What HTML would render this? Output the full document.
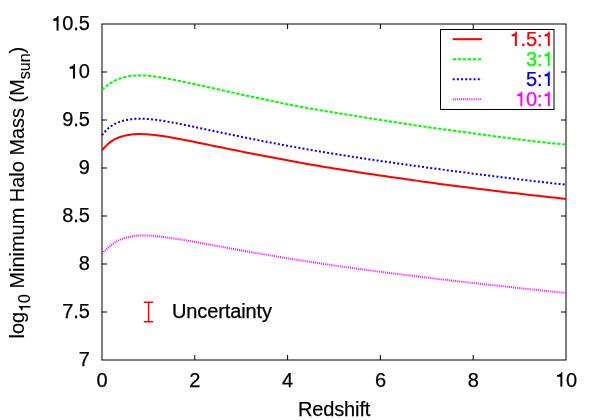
<!DOCTYPE html>
<html><head><meta charset="utf-8"><title>plot</title>
<style>
html,body{margin:0;padding:0;background:#fff;}
svg{display:block;will-change:transform;}
text{font-family:"Liberation Sans",sans-serif;font-size:20px;fill:#000;letter-spacing:-0.12px;stroke:#000;stroke-width:0.25px;}
tspan.h{fill:none !important;stroke:none !important;}
.one{stroke-width:0.1px;}
</style></head><body>
<svg width="600" height="420" viewBox="0 0 600 420">
<rect width="600" height="420" fill="#fff"/>
<g fill="none" stroke="#000" stroke-width="1">
<path d="M102,72 h5 M566,72 h-5"/><path d="M102,120 h5 M566,120 h-5"/><path d="M102,168 h5 M566,168 h-5"/><path d="M102,216 h5 M566,216 h-5"/><path d="M102,264 h5 M566,264 h-5"/><path d="M102,312 h5 M566,312 h-5"/><path d="M194.8,360 v-5 M194.8,24 v5"/><path d="M287.6,360 v-5 M287.6,24 v5"/><path d="M380.4,360 v-5 M380.4,24 v5"/><path d="M473.2,360 v-5 M473.2,24 v5"/>
<rect x="102" y="24" width="464" height="336"/>
</g>
<g fill="none" stroke-width="2" stroke-linecap="butt" stroke-linejoin="round">
<path d="M102.0,150.42 L103.0,149.18 L104.0,148.01 L105.0,146.91 L106.0,145.87 L107.0,144.90 L108.0,144.00 L109.0,143.15 L110.0,142.36 L111.0,141.63 L112.0,140.95 L113.0,140.31 L114.0,139.72 L115.0,139.18 L116.0,138.68 L117.0,138.21 L118.0,137.78 L119.0,137.39 L120.0,137.03 L121.0,136.69 L122.0,136.39 L123.0,136.12 L124.0,135.87 L125.0,135.64 L126.0,135.44 L127.0,135.27 L128.0,135.07 L129.0,134.89 L130.0,134.74 L131.0,134.59 L132.0,134.47 L133.0,134.36 L134.0,134.27 L135.0,134.18 L136.0,134.14 L137.0,134.11 L138.0,134.09 L139.0,134.08 L140.0,134.08 L141.0,134.09 L142.0,134.11 L143.0,134.14 L144.0,134.18 L145.0,134.22 L146.0,134.28 L147.0,134.34 L148.0,134.41 L149.0,134.48 L150.0,134.56 L151.0,134.65 L152.0,134.75 L153.0,134.85 L154.0,134.96 L155.0,135.07 L156.0,135.19 L157.0,135.31 L158.0,135.43 L159.0,135.56 L160.0,135.69 L161.0,135.83 L162.0,135.97 L163.0,136.11 L164.0,136.26 L165.0,136.40 L166.0,136.55 L167.0,136.71 L168.0,136.86 L169.0,137.04 L170.0,137.21 L174.0,137.94 L178.0,138.68 L182.0,139.45 L186.0,140.24 L190.0,141.03 L194.0,141.84 L198.0,142.65 L202.0,143.47 L206.0,144.29 L210.0,145.11 L214.0,145.94 L218.0,146.76 L222.0,147.58 L226.0,148.39 L230.0,149.20 L234.0,150.01 L238.0,150.82 L242.0,151.62 L246.0,152.41 L250.0,153.20 L254.0,153.99 L258.0,154.77 L262.0,155.55 L266.0,156.31 L270.0,157.08 L274.0,157.84 L278.0,158.59 L282.0,159.33 L286.0,160.08 L290.0,160.81 L294.0,161.55 L298.0,162.27 L302.0,162.99 L306.0,163.70 L310.0,164.41 L314.0,165.11 L318.0,165.81 L322.0,166.49 L326.0,167.14 L330.0,167.79 L334.0,168.43 L338.0,169.07 L342.0,169.70 L346.0,170.33 L350.0,170.95 L354.0,171.57 L358.0,172.18 L362.0,172.79 L366.0,173.39 L370.0,173.98 L374.0,174.57 L378.0,175.16 L382.0,175.74 L386.0,176.32 L390.0,176.89 L394.0,177.46 L398.0,178.02 L402.0,178.59 L406.0,179.17 L410.0,179.74 L414.0,180.31 L418.0,180.88 L422.0,181.44 L426.0,181.99 L430.0,182.55 L434.0,183.09 L438.0,183.64 L442.0,184.18 L446.0,184.72 L450.0,185.25 L454.0,185.78 L458.0,186.30 L462.0,186.82 L466.0,187.32 L470.0,187.82 L474.0,188.32 L478.0,188.82 L482.0,189.31 L486.0,189.79 L490.0,190.28 L494.0,190.76 L498.0,191.23 L502.0,191.71 L506.0,192.18 L510.0,192.65 L514.0,193.11 L518.0,193.57 L522.0,194.03 L526.0,194.49 L530.0,194.94 L534.0,195.39 L538.0,195.84 L542.0,196.28 L546.0,196.72 L550.0,197.16 L554.0,197.60 L558.0,198.03 L562.0,198.46 L566.0,198.89" stroke="#ff0000"/>
<path d="M102.0,90.13 L103.0,89.21 L104.0,88.30 L105.0,87.41 L106.0,86.55 L107.0,85.73 L108.0,84.95 L109.0,84.21 L110.0,83.51 L111.0,82.85 L112.0,82.23 L113.0,81.64 L114.0,81.09 L115.0,80.58 L116.0,80.10 L117.0,79.66 L118.0,79.24 L119.0,78.85 L120.0,78.50 L121.0,78.17 L122.0,77.86 L123.0,77.58 L124.0,77.33 L125.0,77.09 L126.0,76.88 L127.0,76.69 L128.0,76.48 L129.0,76.29 L130.0,76.12 L131.0,75.96 L132.0,75.82 L133.0,75.70 L134.0,75.59 L135.0,75.50 L136.0,75.45 L137.0,75.41 L138.0,75.39 L139.0,75.38 L140.0,75.38 L141.0,75.39 L142.0,75.41 L143.0,75.44 L144.0,75.49 L145.0,75.54 L146.0,75.60 L147.0,75.67 L148.0,75.75 L149.0,75.84 L150.0,75.93 L151.0,76.04 L152.0,76.16 L153.0,76.28 L154.0,76.41 L155.0,76.54 L156.0,76.68 L157.0,76.82 L158.0,76.97 L159.0,77.12 L160.0,77.28 L161.0,77.44 L162.0,77.60 L163.0,77.77 L164.0,77.94 L165.0,78.11 L166.0,78.29 L167.0,78.48 L168.0,78.67 L169.0,78.86 L170.0,79.06 L174.0,79.86 L178.0,80.68 L182.0,81.52 L186.0,82.37 L190.0,83.24 L194.0,84.09 L198.0,84.95 L202.0,85.81 L206.0,86.68 L210.0,87.56 L214.0,88.44 L218.0,89.33 L222.0,90.22 L226.0,91.11 L230.0,91.99 L234.0,92.88 L238.0,93.77 L242.0,94.66 L246.0,95.55 L250.0,96.39 L254.0,97.20 L258.0,98.02 L262.0,98.84 L266.0,99.67 L270.0,100.54 L274.0,101.41 L278.0,102.27 L282.0,103.12 L286.0,103.95 L290.0,104.76 L294.0,105.57 L298.0,106.34 L302.0,107.09 L306.0,107.82 L310.0,108.52 L314.0,109.21 L318.0,109.89 L322.0,110.56 L326.0,111.22 L330.0,111.88 L334.0,112.54 L338.0,113.19 L342.0,113.83 L346.0,114.48 L350.0,115.12 L354.0,115.76 L358.0,116.40 L362.0,117.04 L366.0,117.68 L370.0,118.32 L374.0,118.95 L378.0,119.59 L382.0,120.22 L386.0,120.84 L390.0,121.47 L394.0,122.09 L398.0,122.70 L402.0,123.31 L406.0,123.92 L410.0,124.52 L414.0,125.12 L418.0,125.71 L422.0,126.29 L426.0,126.87 L430.0,127.44 L434.0,128.01 L438.0,128.57 L442.0,129.12 L446.0,129.66 L450.0,130.19 L454.0,130.73 L458.0,131.26 L462.0,131.80 L466.0,132.34 L470.0,132.88 L474.0,133.42 L478.0,133.96 L482.0,134.51 L486.0,135.05 L490.0,135.60 L494.0,136.14 L498.0,136.67 L502.0,137.20 L506.0,137.73 L510.0,138.25 L514.0,138.77 L518.0,139.29 L522.0,139.79 L526.0,140.29 L530.0,140.78 L534.0,141.25 L538.0,141.71 L542.0,142.16 L546.0,142.60 L550.0,143.03 L554.0,143.44 L558.0,143.84 L562.0,144.22 L566.0,144.59" stroke="#00ff00" stroke-dasharray="3.4 1.6"/>
<path d="M102.0,135.23 L103.0,133.91 L104.0,132.69 L105.0,131.55 L106.0,130.49 L107.0,129.51 L108.0,128.60 L109.0,127.76 L110.0,126.98 L111.0,126.25 L112.0,125.58 L113.0,124.95 L114.0,124.38 L115.0,123.84 L116.0,123.35 L117.0,122.89 L118.0,122.47 L119.0,122.09 L120.0,121.73 L121.0,121.40 L122.0,121.11 L123.0,120.83 L124.0,120.58 L125.0,120.36 L126.0,120.16 L127.0,119.97 L128.0,119.77 L129.0,119.59 L130.0,119.43 L131.0,119.28 L132.0,119.15 L133.0,119.04 L134.0,118.93 L135.0,118.85 L136.0,118.80 L137.0,118.76 L138.0,118.73 L139.0,118.72 L140.0,118.72 L141.0,118.72 L142.0,118.74 L143.0,118.77 L144.0,118.80 L145.0,118.85 L146.0,118.90 L147.0,118.96 L148.0,119.03 L149.0,119.11 L150.0,119.19 L151.0,119.29 L152.0,119.39 L153.0,119.50 L154.0,119.61 L155.0,119.73 L156.0,119.86 L157.0,119.99 L158.0,120.12 L159.0,120.26 L160.0,120.41 L161.0,120.55 L162.0,120.70 L163.0,120.86 L164.0,121.01 L165.0,121.17 L166.0,121.35 L167.0,121.52 L168.0,121.70 L169.0,121.88 L170.0,122.06 L174.0,122.81 L178.0,123.58 L182.0,124.38 L186.0,125.19 L190.0,126.02 L194.0,126.85 L198.0,127.69 L202.0,128.53 L206.0,129.38 L210.0,130.22 L214.0,131.06 L218.0,131.91 L222.0,132.75 L226.0,133.59 L230.0,134.43 L234.0,135.26 L238.0,136.09 L242.0,136.91 L246.0,137.73 L250.0,138.54 L254.0,139.34 L258.0,140.14 L262.0,140.93 L266.0,141.72 L270.0,142.50 L274.0,143.27 L278.0,144.03 L282.0,144.78 L286.0,145.52 L290.0,146.24 L294.0,146.97 L298.0,147.68 L302.0,148.39 L306.0,149.09 L310.0,149.79 L314.0,150.48 L318.0,151.16 L322.0,151.83 L326.0,152.50 L330.0,153.15 L334.0,153.80 L338.0,154.45 L342.0,155.08 L346.0,155.72 L350.0,156.34 L354.0,156.97 L358.0,157.58 L362.0,158.20 L366.0,158.80 L370.0,159.40 L374.0,160.00 L378.0,160.59 L382.0,161.18 L386.0,161.76 L390.0,162.33 L394.0,162.91 L398.0,163.47 L402.0,164.04 L406.0,164.61 L410.0,165.17 L414.0,165.73 L418.0,166.29 L422.0,166.84 L426.0,167.39 L430.0,167.93 L434.0,168.47 L438.0,169.00 L442.0,169.53 L446.0,170.06 L450.0,170.58 L454.0,171.10 L458.0,171.62 L462.0,172.14 L466.0,172.67 L470.0,173.19 L474.0,173.71 L478.0,174.23 L482.0,174.74 L486.0,175.26 L490.0,175.76 L494.0,176.27 L498.0,176.77 L502.0,177.27 L506.0,177.76 L510.0,178.25 L514.0,178.74 L518.0,179.23 L522.0,179.71 L526.0,180.19 L530.0,180.67 L534.0,181.14 L538.0,181.61 L542.0,182.07 L546.0,182.51 L550.0,182.96 L554.0,183.40 L558.0,183.83 L562.0,184.27 L566.0,184.70" stroke="#0000ff" stroke-dasharray="2 2.17"/>
<path d="M102.0,253.52 L103.0,252.58 L104.0,251.60 L105.0,250.61 L106.0,249.64 L107.0,248.69 L108.0,247.77 L109.0,246.88 L110.0,246.04 L111.0,245.24 L112.0,244.48 L113.0,243.76 L114.0,243.08 L115.0,242.44 L116.0,241.85 L117.0,241.29 L118.0,240.77 L119.0,240.28 L120.0,239.84 L121.0,239.42 L122.0,239.04 L123.0,238.68 L124.0,238.36 L125.0,238.07 L126.0,237.80 L127.0,237.56 L128.0,237.29 L129.0,237.05 L130.0,236.82 L131.0,236.62 L132.0,236.43 L133.0,236.26 L134.0,236.10 L135.0,235.96 L136.0,235.85 L137.0,235.75 L138.0,235.66 L139.0,235.58 L140.0,235.51 L141.0,235.46 L142.0,235.41 L143.0,235.37 L144.0,235.39 L145.0,235.42 L146.0,235.46 L147.0,235.51 L148.0,235.56 L149.0,235.62 L150.0,235.68 L151.0,235.75 L152.0,235.83 L153.0,235.91 L154.0,236.00 L155.0,236.09 L156.0,236.19 L157.0,236.30 L158.0,236.40 L159.0,236.51 L160.0,236.62 L161.0,236.74 L162.0,236.86 L163.0,236.98 L164.0,237.11 L165.0,237.24 L166.0,237.37 L167.0,237.51 L168.0,237.65 L169.0,237.79 L170.0,237.93 L174.0,238.53 L178.0,239.13 L182.0,239.76 L186.0,240.41 L190.0,241.09 L194.0,241.78 L198.0,242.49 L202.0,243.21 L206.0,243.93 L210.0,244.66 L214.0,245.40 L218.0,246.13 L222.0,246.87 L226.0,247.60 L230.0,248.33 L234.0,249.06 L238.0,249.78 L242.0,250.50 L246.0,251.21 L250.0,251.92 L254.0,252.62 L258.0,253.32 L262.0,254.02 L266.0,254.70 L270.0,255.38 L274.0,256.06 L278.0,256.72 L282.0,257.38 L286.0,258.03 L290.0,258.68 L294.0,259.32 L298.0,259.96 L302.0,260.58 L306.0,261.21 L310.0,261.82 L314.0,262.43 L318.0,263.04 L322.0,263.64 L326.0,264.23 L330.0,264.82 L334.0,265.40 L338.0,265.98 L342.0,266.55 L346.0,267.12 L350.0,267.68 L354.0,268.24 L358.0,268.79 L362.0,269.34 L366.0,269.88 L370.0,270.42 L374.0,270.95 L378.0,271.48 L382.0,272.01 L386.0,272.53 L390.0,273.05 L394.0,273.56 L398.0,274.07 L402.0,274.57 L406.0,275.08 L410.0,275.57 L414.0,276.07 L418.0,276.56 L422.0,277.04 L426.0,277.52 L430.0,278.00 L434.0,278.48 L438.0,278.95 L442.0,279.42 L446.0,279.88 L450.0,280.35 L454.0,280.81 L458.0,281.27 L462.0,281.72 L466.0,282.18 L470.0,282.63 L474.0,283.08 L478.0,283.53 L482.0,283.98 L486.0,284.42 L490.0,284.87 L494.0,285.31 L498.0,285.75 L502.0,286.19 L506.0,286.63 L510.0,287.07 L514.0,287.51 L518.0,287.95 L522.0,288.38 L526.0,288.81 L530.0,289.24 L534.0,289.67 L538.0,290.09 L542.0,290.52 L546.0,290.94 L550.0,291.35 L554.0,291.77 L558.0,292.18 L562.0,292.59 L566.0,292.99" stroke="#ff00ff" stroke-dasharray="1 1.08"/>
</g>
<g>
<text x="89.7" y="30.50" transform="rotate(0.02 89.7 30.50)" text-anchor="end"><tspan class="h">1</tspan>0.5</text>
<text x="89.7" y="78.50" transform="rotate(0.02 89.7 78.50)" text-anchor="end"><tspan class="h">1</tspan>0</text>
<text x="89.7" y="126.50" transform="rotate(0.02 89.7 126.50)" text-anchor="end">9.5</text>
<text x="89.7" y="174.50" transform="rotate(0.02 89.7 174.50)" text-anchor="end">9</text>
<text x="89.7" y="222.50" transform="rotate(0.02 89.7 222.50)" text-anchor="end">8.5</text>
<text x="89.7" y="270.50" transform="rotate(0.02 89.7 270.50)" text-anchor="end">8</text>
<text x="89.7" y="318.50" transform="rotate(0.02 89.7 318.50)" text-anchor="end">7.5</text>
<text x="89.7" y="366.50" transform="rotate(0.02 89.7 366.50)" text-anchor="end">7</text>
<text x="102.0" y="386.6" transform="rotate(0.02 102.0 386.6)" text-anchor="middle">0</text>
<text x="194.8" y="386.6" transform="rotate(0.02 194.8 386.6)" text-anchor="middle">2</text>
<text x="287.6" y="386.6" transform="rotate(0.02 287.6 386.6)" text-anchor="middle">4</text>
<text x="380.4" y="386.6" transform="rotate(0.02 380.4 386.6)" text-anchor="middle">6</text>
<text x="473.2" y="386.6" transform="rotate(0.02 473.2 386.6)" text-anchor="middle">8</text>
<text x="566.0" y="386.6" transform="rotate(0.02 566.0 386.6)" text-anchor="middle"><tspan class="h">1</tspan>0</text>
<text x="334.1" y="416" transform="rotate(0.02 334.1 416)" text-anchor="middle">Redshift</text>
<text transform="translate(24.3,192.65) rotate(-90)" text-anchor="middle" style="letter-spacing:-0.03px;stroke-width:0.12px">log<tspan font-size="16" dy="6"><tspan class="h">1</tspan>0</tspan><tspan dy="-6"> Minimum Halo Mass (M</tspan><tspan font-size="16" dy="6">sun</tspan><tspan dy="-6">)</tspan></text>
<text x="172" y="318.2" transform="rotate(0.02 172 318.2)">Uncertainty</text>
</g>
<g fill="none" stroke="#ff0000" stroke-width="1.5">
<path d="M148.6,302.2 V321.8 M143.8,302.2 H153.1 M143.8,321.8 H153.1"/>
</g>
<rect x="440.5" y="29.5" width="113.5" height="80" fill="#fff" stroke="#000" stroke-width="1"/>
<g fill="none" stroke-width="2">
<path d="M452.7,39.15 H482" stroke="#ff0000"/>
<path d="M452.7,59.2 H482" stroke="#00ff00" stroke-dasharray="3.4 1.6"/>
<path d="M452.7,79.15 H482" stroke="#0000ff" stroke-dasharray="2 2.17"/>
<path d="M452.7,99.2 H482" stroke="#ff00ff" stroke-dasharray="1 1.08"/>
</g>
<g text-anchor="end">
<text x="553.5" y="46" transform="rotate(0.02 553.5 46)" style="fill:#ff0000;stroke:#ff0000"><tspan class="h">1</tspan>.5:<tspan class="h">1</tspan></text>
<text x="553.5" y="66" transform="rotate(0.02 553.5 66)" style="fill:#00ff00;stroke:#00ff00">3:<tspan class="h">1</tspan></text>
<text x="553.5" y="86" transform="rotate(0.02 553.5 86)" style="fill:#0000ff;stroke:#0000ff">5:<tspan class="h">1</tspan></text>
<text x="553.5" y="106" transform="rotate(0.02 553.5 106)" style="fill:#ff00ff;stroke:#ff00ff"><tspan class="h">1</tspan>0:<tspan class="h">1</tspan></text>
</g>
<path class="one" transform="rotate(0.02 89.7 30.50)" d="M56.63,30.50L56.63,20.74L53.33,20.74L53.33,18.94C55.23,18.80 57.03,17.90 57.43,16.10L58.53,16.10L58.53,30.50Z" fill="rgb(0, 0, 0)" stroke="rgb(0, 0, 0)"/>
<path class="one" transform="rotate(0.02 89.7 78.50)" d="M73.07,78.50L73.07,68.74L69.77,68.74L69.77,66.94C71.67,66.80 73.47,65.90 73.87,64.10L74.97,64.10L74.97,78.50Z" fill="rgb(0, 0, 0)" stroke="rgb(0, 0, 0)"/>
<path class="one" transform="rotate(0.02 566.0 386.6)" d="M560.38,386.60L560.38,376.84L557.08,376.84L557.08,375.04C558.98,374.90 560.78,374.00 561.18,372.20L562.28,372.20L562.28,386.60Z" fill="rgb(0, 0, 0)" stroke="rgb(0, 0, 0)"/>
<path class="one" transform="translate(24.3,192.65) rotate(-90)" d="M-114.91,6.00L-114.91,-1.81L-117.55,-1.81L-117.55,-3.25C-116.03,-3.36 -114.59,-4.08 -114.27,-5.52L-113.39,-5.52L-113.39,6.00Z" fill="rgb(0, 0, 0)" stroke="rgb(0, 0, 0)"/>
<path class="one" transform="rotate(0.02 553.5 46)" d="M514.98,46.00L514.98,36.24L511.68,36.24L511.68,34.44C513.58,34.30 515.38,33.40 515.78,31.60L516.88,31.60L516.88,46.00Z" fill="rgb(255, 0, 0)" stroke="rgb(255, 0, 0)"/>
<path class="one" transform="rotate(0.02 553.5 46)" d="M547.88,46.00L547.88,36.24L544.58,36.24L544.58,34.44C546.48,34.30 548.28,33.40 548.68,31.60L549.78,31.60L549.78,46.00Z" fill="rgb(255, 0, 0)" stroke="rgb(255, 0, 0)"/>
<path class="one" transform="rotate(0.02 553.5 66)" d="M547.88,66.00L547.88,56.24L544.58,56.24L544.58,54.44C546.48,54.30 548.28,53.40 548.68,51.60L549.78,51.60L549.78,66.00Z" fill="rgb(0, 255, 0)" stroke="rgb(0, 255, 0)"/>
<path class="one" transform="rotate(0.02 553.5 86)" d="M547.88,86.00L547.88,76.24L544.58,76.24L544.58,74.44C546.48,74.30 548.28,73.40 548.68,71.60L549.78,71.60L549.78,86.00Z" fill="rgb(0, 0, 255)" stroke="rgb(0, 0, 255)"/>
<path class="one" transform="rotate(0.02 553.5 106)" d="M520.42,106.00L520.42,96.24L517.12,96.24L517.12,94.44C519.02,94.30 520.82,93.40 521.22,91.60L522.32,91.60L522.32,106.00Z" fill="rgb(255, 0, 255)" stroke="rgb(255, 0, 255)"/>
<path class="one" transform="rotate(0.02 553.5 106)" d="M547.88,106.00L547.88,96.24L544.58,96.24L544.58,94.44C546.48,94.30 548.28,93.40 548.68,91.60L549.78,91.60L549.78,106.00Z" fill="rgb(255, 0, 255)" stroke="rgb(255, 0, 255)"/>
</svg>
</body></html>
